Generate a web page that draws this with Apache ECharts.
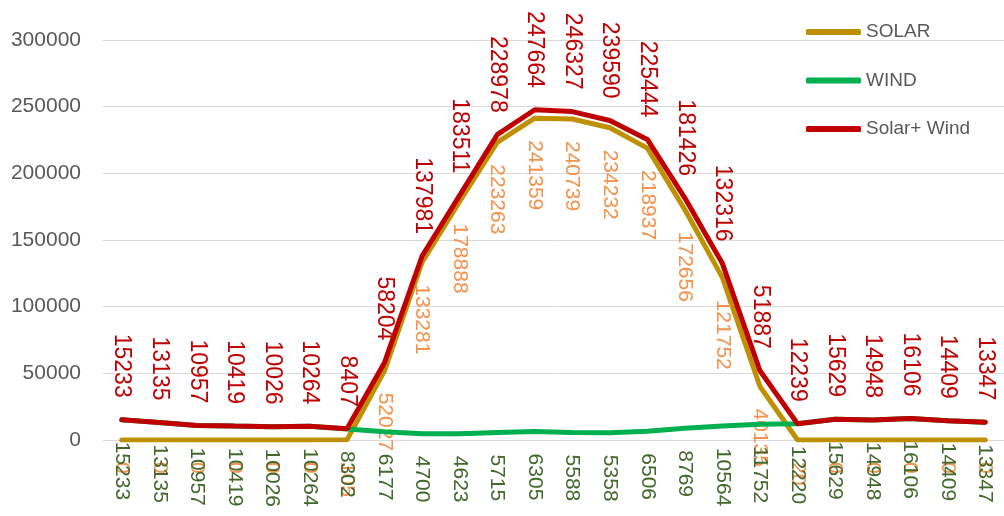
<!DOCTYPE html>
<html>
<head>
<meta charset="utf-8">
<script src="https://cdn.jsdelivr.net/npm/echarts@6/dist/echarts.min.js"></script>
<style>
    html, body { margin: 0; padding: 0; background: #fff; }
    #chart { width: 1004px; height: 516px; }
</style>
</head>
<body>
<div id="chart"></div>
<script>
var hours = ['1', '2', '3', '4', '5', '6', '7', '8', '9', '10', '11', '12',
    '13', '14', '15', '16', '17', '18', '19', '20', '21', '22', '23', '24'];
var solar = [0, 0, 0, 0, 0, 0, 105, 52027, 133281, 178888, 223263, 241359,
    240739, 234232, 218937, 172656, 121752, 40135, 20, 0, 0, 0, 0, 0];
var wind = [15233, 13135, 10957, 10419, 10026, 10264, 8302, 6177, 4700, 4623, 5715, 6305,
    5588, 5358, 6506, 8769, 10564, 11752, 12220, 15629, 14948, 16106, 14409, 13347];
var solarWind = [15233, 13135, 10957, 10419, 10026, 10264, 8407, 58204, 137981, 183511, 228978, 247664,
    246327, 239590, 225444, 181426, 132316, 51887, 12239, 15629, 14948, 16106, 14409, 13347];
var yTicks = { min: 0, max: 300000, interval: 50000 };

var fontName = 'Liberation Sans';

function belowLabel(color, size) {
    return {
        show: true,
        position: 'bottom',
        distance: 22,
        rotate: -90,
        align: 'left',
        verticalAlign: 'middle',
        color: color,
        fontSize: size,
        fontFamily: fontName
    };
}

var chartDom = document.getElementById('chart');
var myChart = echarts.init(chartDom);
var option;

option = {
    animation: false,
    grid: {
        left: 103,
        width: 908,
        top: 40,
        bottom: 76
    },
    legend: {
        orient: 'vertical',
        left: 801,
        top: 16,
        itemWidth: 55,
        itemHeight: 6,
        itemGap: 26.5,
        icon: 'roundRect',
        textStyle: {
            color: '#595959',
            fontSize: 19,
            fontFamily: fontName,
            lineHeight: 22
        },
        data: ['SOLAR', 'WIND', 'Solar+ Wind']
    },
    xAxis: {
        type: 'category',
        data: hours,
        boundaryGap: true,
        axisLine: { show: true, lineStyle: { color: '#D9D9D9', width: 1 } },
        axisTick: { show: false },
        axisLabel: { show: false }
    },
    yAxis: {
        type: 'value',
        min: yTicks.min,
        max: yTicks.max,
        interval: yTicks.interval,
        axisLine: { show: false },
        axisTick: { show: false },
        splitLine: { lineStyle: { color: '#D9D9D9', width: 1 } },
        axisLabel: {
            color: '#595959',
            fontSize: 21,
            fontFamily: fontName,
            margin: 22,
            formatter: function (v) { return String(v); }
        }
    },
    series: [
        {
            name: 'SOLAR',
            type: 'line',
            data: solar,
            color: '#BF9000',
            symbol: 'circle',
            symbolSize: 0,
            lineStyle: { width: 5, color: '#BF9000', cap: 'round' },
            label: belowLabel('#F4914A', 21),
            z: 2
        },
        {
            name: 'WIND',
            type: 'line',
            data: wind,
            color: '#00B050',
            symbol: 'circle',
            symbolSize: 0,
            lineStyle: { width: 5, color: '#00B050', cap: 'round' },
            label: belowLabel('#43682B', 21),
            z: 3
        },
        {
            name: 'Solar+ Wind',
            type: 'line',
            data: solarWind,
            color: '#C00000',
            symbol: 'circle',
            symbolSize: 0,
            lineStyle: { width: 5, color: '#C00000', cap: 'round' },
            label: {
                show: true,
                position: 'top',
                distance: 22,
                rotate: -90,
                align: 'right',
                verticalAlign: 'middle',
                color: '#C00000',
                fontSize: 23,
                fontFamily: fontName
            },
            z: 4
        }
    ]
};

myChart.setOption(option);
</script>
</body>
</html>
